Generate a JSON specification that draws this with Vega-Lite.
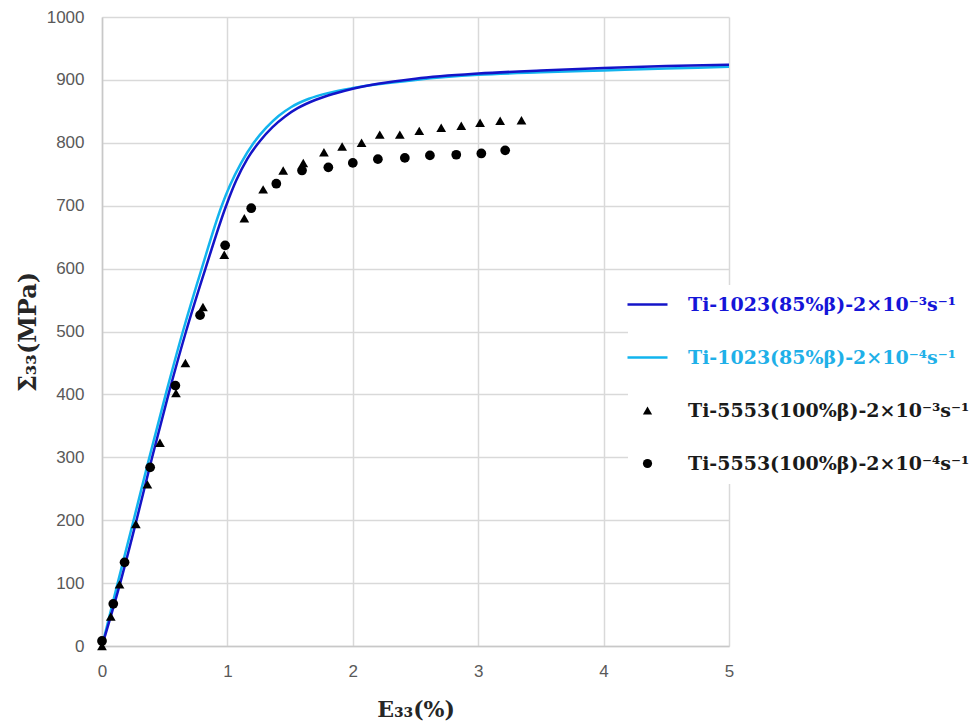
{
  "$schema": "https://vega.github.io/schema/vega-lite/v6.json",
  "width": 627,
  "height": 629,
  "autosize": "none",
  "padding": {"left": 102, "top": 17, "right": 242, "bottom": 81},
  "background": "white",
  "config": {"view": {"stroke": null}},
  "data": {"values": [
    {"s": "Ti-1023(85%β)-2×10⁻³s⁻¹", "e": 0, "v": 0},
    {"s": "Ti-1023(85%β)-2×10⁻³s⁻¹", "e": 0.145, "v": 100},
    {"s": "Ti-1023(85%β)-2×10⁻³s⁻¹", "e": 0.275, "v": 200},
    {"s": "Ti-1023(85%β)-2×10⁻³s⁻¹", "e": 0.4, "v": 300},
    {"s": "Ti-1023(85%β)-2×10⁻³s⁻¹", "e": 0.53, "v": 400},
    {"s": "Ti-1023(85%β)-2×10⁻³s⁻¹", "e": 0.67, "v": 500},
    {"s": "Ti-1023(85%β)-2×10⁻³s⁻¹", "e": 0.825, "v": 600},
    {"s": "Ti-1023(85%β)-2×10⁻³s⁻¹", "e": 0.99, "v": 700},
    {"s": "Ti-1023(85%β)-2×10⁻³s⁻¹", "e": 1.07, "v": 740},
    {"s": "Ti-1023(85%β)-2×10⁻³s⁻¹", "e": 1.16, "v": 775},
    {"s": "Ti-1023(85%β)-2×10⁻³s⁻¹", "e": 1.26, "v": 803},
    {"s": "Ti-1023(85%β)-2×10⁻³s⁻¹", "e": 1.36, "v": 825},
    {"s": "Ti-1023(85%β)-2×10⁻³s⁻¹", "e": 1.46, "v": 842},
    {"s": "Ti-1023(85%β)-2×10⁻³s⁻¹", "e": 1.56, "v": 855},
    {"s": "Ti-1023(85%β)-2×10⁻³s⁻¹", "e": 1.7, "v": 868},
    {"s": "Ti-1023(85%β)-2×10⁻³s⁻¹", "e": 1.85, "v": 878},
    {"s": "Ti-1023(85%β)-2×10⁻³s⁻¹", "e": 2.0, "v": 886},
    {"s": "Ti-1023(85%β)-2×10⁻³s⁻¹", "e": 2.2, "v": 894},
    {"s": "Ti-1023(85%β)-2×10⁻³s⁻¹", "e": 2.5, "v": 902},
    {"s": "Ti-1023(85%β)-2×10⁻³s⁻¹", "e": 3.0, "v": 910},
    {"s": "Ti-1023(85%β)-2×10⁻³s⁻¹", "e": 3.5, "v": 915},
    {"s": "Ti-1023(85%β)-2×10⁻³s⁻¹", "e": 4.0, "v": 919},
    {"s": "Ti-1023(85%β)-2×10⁻³s⁻¹", "e": 4.5, "v": 922},
    {"s": "Ti-1023(85%β)-2×10⁻³s⁻¹", "e": 5.0, "v": 924},
    {"s": "Ti-1023(85%β)-2×10⁻⁴s⁻¹", "e": 0, "v": 0},
    {"s": "Ti-1023(85%β)-2×10⁻⁴s⁻¹", "e": 0.125, "v": 100},
    {"s": "Ti-1023(85%β)-2×10⁻⁴s⁻¹", "e": 0.252, "v": 200},
    {"s": "Ti-1023(85%β)-2×10⁻⁴s⁻¹", "e": 0.378, "v": 300},
    {"s": "Ti-1023(85%β)-2×10⁻⁴s⁻¹", "e": 0.508, "v": 400},
    {"s": "Ti-1023(85%β)-2×10⁻⁴s⁻¹", "e": 0.645, "v": 500},
    {"s": "Ti-1023(85%β)-2×10⁻⁴s⁻¹", "e": 0.795, "v": 600},
    {"s": "Ti-1023(85%β)-2×10⁻⁴s⁻¹", "e": 0.955, "v": 700},
    {"s": "Ti-1023(85%β)-2×10⁻⁴s⁻¹", "e": 1.02, "v": 732},
    {"s": "Ti-1023(85%β)-2×10⁻⁴s⁻¹", "e": 1.11, "v": 768},
    {"s": "Ti-1023(85%β)-2×10⁻⁴s⁻¹", "e": 1.21, "v": 800},
    {"s": "Ti-1023(85%β)-2×10⁻⁴s⁻¹", "e": 1.31, "v": 824},
    {"s": "Ti-1023(85%β)-2×10⁻⁴s⁻¹", "e": 1.41, "v": 843},
    {"s": "Ti-1023(85%β)-2×10⁻⁴s⁻¹", "e": 1.51, "v": 857},
    {"s": "Ti-1023(85%β)-2×10⁻⁴s⁻¹", "e": 1.65, "v": 870},
    {"s": "Ti-1023(85%β)-2×10⁻⁴s⁻¹", "e": 1.8, "v": 879},
    {"s": "Ti-1023(85%β)-2×10⁻⁴s⁻¹", "e": 2.0, "v": 887},
    {"s": "Ti-1023(85%β)-2×10⁻⁴s⁻¹", "e": 2.2, "v": 893},
    {"s": "Ti-1023(85%β)-2×10⁻⁴s⁻¹", "e": 2.5, "v": 900},
    {"s": "Ti-1023(85%β)-2×10⁻⁴s⁻¹", "e": 3.0, "v": 908},
    {"s": "Ti-1023(85%β)-2×10⁻⁴s⁻¹", "e": 3.5, "v": 912},
    {"s": "Ti-1023(85%β)-2×10⁻⁴s⁻¹", "e": 4.0, "v": 915},
    {"s": "Ti-1023(85%β)-2×10⁻⁴s⁻¹", "e": 4.5, "v": 918},
    {"s": "Ti-1023(85%β)-2×10⁻⁴s⁻¹", "e": 5.0, "v": 921},
    {"s": "Ti-5553(100%β)-2×10⁻³s⁻¹", "e": 0, "v": 0},
    {"s": "Ti-5553(100%β)-2×10⁻³s⁻¹", "e": 0.07, "v": 47},
    {"s": "Ti-5553(100%β)-2×10⁻³s⁻¹", "e": 0.14, "v": 98},
    {"s": "Ti-5553(100%β)-2×10⁻³s⁻¹", "e": 0.27, "v": 194},
    {"s": "Ti-5553(100%β)-2×10⁻³s⁻¹", "e": 0.362, "v": 257},
    {"s": "Ti-5553(100%β)-2×10⁻³s⁻¹", "e": 0.462, "v": 323},
    {"s": "Ti-5553(100%β)-2×10⁻³s⁻¹", "e": 0.59, "v": 402},
    {"s": "Ti-5553(100%β)-2×10⁻³s⁻¹", "e": 0.665, "v": 450},
    {"s": "Ti-5553(100%β)-2×10⁻³s⁻¹", "e": 0.805, "v": 539},
    {"s": "Ti-5553(100%β)-2×10⁻³s⁻¹", "e": 0.975, "v": 622},
    {"s": "Ti-5553(100%β)-2×10⁻³s⁻¹", "e": 1.135, "v": 680},
    {"s": "Ti-5553(100%β)-2×10⁻³s⁻¹", "e": 1.285, "v": 726},
    {"s": "Ti-5553(100%β)-2×10⁻³s⁻¹", "e": 1.445, "v": 756},
    {"s": "Ti-5553(100%β)-2×10⁻³s⁻¹", "e": 1.605, "v": 768},
    {"s": "Ti-5553(100%β)-2×10⁻³s⁻¹", "e": 1.77, "v": 785},
    {"s": "Ti-5553(100%β)-2×10⁻³s⁻¹", "e": 1.915, "v": 794},
    {"s": "Ti-5553(100%β)-2×10⁻³s⁻¹", "e": 2.07, "v": 800},
    {"s": "Ti-5553(100%β)-2×10⁻³s⁻¹", "e": 2.215, "v": 813},
    {"s": "Ti-5553(100%β)-2×10⁻³s⁻¹", "e": 2.375, "v": 813},
    {"s": "Ti-5553(100%β)-2×10⁻³s⁻¹", "e": 2.53, "v": 819},
    {"s": "Ti-5553(100%β)-2×10⁻³s⁻¹", "e": 2.705, "v": 824},
    {"s": "Ti-5553(100%β)-2×10⁻³s⁻¹", "e": 2.865, "v": 827},
    {"s": "Ti-5553(100%β)-2×10⁻³s⁻¹", "e": 3.015, "v": 832},
    {"s": "Ti-5553(100%β)-2×10⁻³s⁻¹", "e": 3.175, "v": 835},
    {"s": "Ti-5553(100%β)-2×10⁻³s⁻¹", "e": 3.345, "v": 836},
    {"s": "Ti-5553(100%β)-2×10⁻⁴s⁻¹", "e": 0, "v": 8},
    {"s": "Ti-5553(100%β)-2×10⁻⁴s⁻¹", "e": 0.09, "v": 67},
    {"s": "Ti-5553(100%β)-2×10⁻⁴s⁻¹", "e": 0.18, "v": 133},
    {"s": "Ti-5553(100%β)-2×10⁻⁴s⁻¹", "e": 0.384, "v": 284},
    {"s": "Ti-5553(100%β)-2×10⁻⁴s⁻¹", "e": 0.585, "v": 414},
    {"s": "Ti-5553(100%β)-2×10⁻⁴s⁻¹", "e": 0.782, "v": 526},
    {"s": "Ti-5553(100%β)-2×10⁻⁴s⁻¹", "e": 0.982, "v": 637},
    {"s": "Ti-5553(100%β)-2×10⁻⁴s⁻¹", "e": 1.19, "v": 696},
    {"s": "Ti-5553(100%β)-2×10⁻⁴s⁻¹", "e": 1.39, "v": 735},
    {"s": "Ti-5553(100%β)-2×10⁻⁴s⁻¹", "e": 1.595, "v": 756},
    {"s": "Ti-5553(100%β)-2×10⁻⁴s⁻¹", "e": 1.805, "v": 761},
    {"s": "Ti-5553(100%β)-2×10⁻⁴s⁻¹", "e": 2.0, "v": 768},
    {"s": "Ti-5553(100%β)-2×10⁻⁴s⁻¹", "e": 2.2, "v": 774},
    {"s": "Ti-5553(100%β)-2×10⁻⁴s⁻¹", "e": 2.415, "v": 776},
    {"s": "Ti-5553(100%β)-2×10⁻⁴s⁻¹", "e": 2.615, "v": 780},
    {"s": "Ti-5553(100%β)-2×10⁻⁴s⁻¹", "e": 2.825, "v": 781},
    {"s": "Ti-5553(100%β)-2×10⁻⁴s⁻¹", "e": 3.025, "v": 783},
    {"s": "Ti-5553(100%β)-2×10⁻⁴s⁻¹", "e": 3.215, "v": 788}
  ]},
  "encoding": {
    "x": {
      "field": "e", "type": "quantitative",
      "scale": {"domain": [0, 5], "nice": false},
      "axis": {
        "values": [0, 1, 2, 3, 4, 5],
        "format": "d",
        "title": "E₃₃(%)",
        "labelFlush": false,
        "grid": true, "gridColor": "#d9d9d9", "gridWidth": 1.5,
        "domainColor": "#c8c8c8", "domainWidth": 1.5,
        "ticks": false,
        "labelFont": "Liberation Sans", "labelFontSize": 17, "labelColor": "#595959", "labelPadding": 17,
        "titleFont": "DejaVu Serif", "titleFontSize": 22, "titleFontWeight": "bold", "titleColor": "#262626", "titlePadding": 20
      }
    },
    "y": {
      "field": "v", "type": "quantitative",
      "scale": {"domain": [0, 1000], "nice": false},
      "axis": {
        "values": [0, 100, 200, 300, 400, 500, 600, 700, 800, 900, 1000],
        "format": "d",
        "title": "Σ₃₃(MPa)",
        "labelFlush": false,
        "grid": true, "gridColor": "#d9d9d9", "gridWidth": 1.5,
        "domainColor": "#c8c8c8", "domainWidth": 1.5,
        "ticks": false,
        "labelFont": "Liberation Sans", "labelFontSize": 17, "labelColor": "#595959", "labelPadding": 18,
        "titleFont": "DejaVu Serif", "titleFontSize": 24, "titleFontWeight": "bold", "titleColor": "#262626", "titlePadding": 6
      }
    }
  },
  "layer": [
    {
      "transform": [{"filter": {"field": "s", "equal": "Ti-1023(85%β)-2×10⁻⁴s⁻¹"}}],
      "mark": {"type": "line", "strokeWidth": 2.5, "interpolate": "monotone"},
      "encoding": {
        "color": {
          "field": "s", "type": "nominal",
          "scale": {
            "domain": ["Ti-1023(85%β)-2×10⁻³s⁻¹", "Ti-1023(85%β)-2×10⁻⁴s⁻¹", "Ti-5553(100%β)-2×10⁻³s⁻¹", "Ti-5553(100%β)-2×10⁻⁴s⁻¹"],
            "range": ["#1414c8", "#12b4ee", "#000000", "#000000"]
          },
          "legend": {
            "orient": "none",
            "legendX": 526,
            "legendY": 268,
            "title": null,
            "padding": 10,
            "fillColor": "white",
            "strokeColor": null,
            "symbolSize": 1600,
            "symbolStrokeWidth": 2.5,
            "rowPadding": 33,
            "labelOffset": 31,
            "labelLimit": 0,
            "labelFont": "DejaVu Serif",
            "labelFontSize": 19,
            "labelFontWeight": "bold",
            "encode": {
              "symbols": {
                "update": {
                  "shape": {"signal": "datum.value === 'Ti-5553(100%β)-2×10⁻³s⁻¹' ? 'triangle-up' : (datum.value === 'Ti-5553(100%β)-2×10⁻⁴s⁻¹' ? 'circle' : 'stroke')"},
                  "size": {"signal": "(datum.value === 'Ti-5553(100%β)-2×10⁻³s⁻¹' || datum.value === 'Ti-5553(100%β)-2×10⁻⁴s⁻¹') ? 85 : 1600"},
                  "fill": {"signal": "(datum.value === 'Ti-5553(100%β)-2×10⁻³s⁻¹' || datum.value === 'Ti-5553(100%β)-2×10⁻⁴s⁻¹') ? '#000000' : 'transparent'"},
                  "stroke": {"signal": "datum.value === 'Ti-1023(85%β)-2×10⁻³s⁻¹' ? '#1414c8' : (datum.value === 'Ti-1023(85%β)-2×10⁻⁴s⁻¹' ? '#12b4ee' : '#000000')"},
                  "strokeWidth": {"signal": "(datum.value === 'Ti-5553(100%β)-2×10⁻³s⁻¹' || datum.value === 'Ti-5553(100%β)-2×10⁻⁴s⁻¹') ? 0 : 2.5"},
                  "opacity": {"value": 1}
                }
              },
              "labels": {
                "update": {
                  "fill": {"signal": "datum.value === 'Ti-1023(85%β)-2×10⁻³s⁻¹' ? '#1515d8' : (datum.value === 'Ti-1023(85%β)-2×10⁻⁴s⁻¹' ? '#1fb0e8' : '#1a1a1a')"}
                }
              }
            }
          }
        }
      }
    },
    {
      "transform": [{"filter": {"field": "s", "equal": "Ti-1023(85%β)-2×10⁻³s⁻¹"}}],
      "mark": {"type": "line", "strokeWidth": 2.5, "interpolate": "monotone"},
      "encoding": {
        "color": {"field": "s", "type": "nominal"}
      }
    },
    {
      "transform": [{"filter": {"field": "s", "oneOf": ["Ti-5553(100%β)-2×10⁻³s⁻¹", "Ti-5553(100%β)-2×10⁻⁴s⁻¹"]}}],
      "mark": {"type": "point", "filled": true, "opacity": 1, "size": 95},
      "encoding": {
        "color": {"field": "s", "type": "nominal"},
        "shape": {
          "field": "s", "type": "nominal",
          "scale": {"domain": ["Ti-5553(100%β)-2×10⁻³s⁻¹", "Ti-5553(100%β)-2×10⁻⁴s⁻¹"], "range": ["triangle-up", "circle"]},
          "legend": null
        }
      }
    }
  ]
}
